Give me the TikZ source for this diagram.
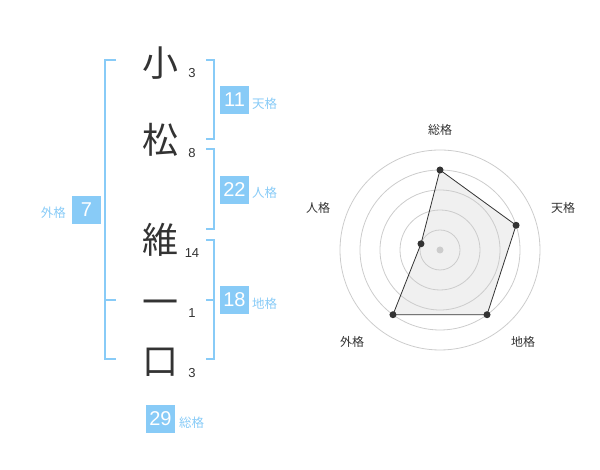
\documentclass[tikz,border=0pt]{standalone}
\usetikzlibrary{calc}
\usepackage{fontspec}
\setmainfont{Liberation Sans}
\newfontfamily\jp{Noto Sans CJK JP}
\definecolor{sky}{HTML}{88CBF7}
\definecolor{ink}{HTML}{333333}
\definecolor{ring}{HTML}{CCCCCC}
\definecolor{area}{HTML}{F0F0F0}
\tikzset{
  kanji/.style={font=\jp\fontsize{36}{36}\selectfont, text=ink, inner sep=0pt},
  strokes/.style={font=\fontsize{13}{13}\selectfont, text=ink, inner sep=0pt},
  valbox/.style={fill=sky, text=white, minimum width=29pt, minimum height=28pt, inner sep=0pt, font=\fontsize{20}{20}\selectfont},
  kaku/.style={font=\jp\fontsize{12.5}{12.5}\selectfont, text=sky, inner sep=0pt},
  bracket/.style={draw=sky, line width=2pt},
  axislabel/.style={font=\jp\fontsize{12}{12}\selectfont, text=ink, inner sep=0pt},
  dot/.style={circle, fill=ink, inner sep=0pt, minimum size=7pt},
}
\begin{document}
\begin{tikzpicture}[x=1pt,y=1pt]
\useasboundingbox (0,0) rectangle (600,470);
% characters
\node[kanji] (k1) at (160,407) {小};
\node[kanji] (k2) at (160,330) {松};
\node[kanji] (k3) at (160,230) {維};
\node[kanji] (k4) at (160,162) {一};
\node[kanji] (k5) at (160,108) {口};
\node[strokes] (s1) at (192,397) {3};
\node[strokes] (s2) at (192,317) {8};
\node[strokes] (s3) at (192,217) {14};
\node[strokes] (s4) at (192,157) {1};
\node[strokes] (s5) at (192,97) {3};
% brackets
\draw[bracket] (116,410) -- (105,410) -- (105,111) -- (116,111);
\draw[bracket] (105,170) -- (116,170);
\draw[bracket] (206,410) -- (214,410) -- (214,331) -- (206,331);
\draw[bracket] (206,321) -- (214,321) -- (214,241) -- (206,241);
\draw[bracket] (206,230) -- (214,230) -- (214,111) -- (206,111);
\draw[bracket] (214,170) -- (206,170);
% value boxes
\node[valbox] (ten) at (234.5,370) {11};
\node[valbox] (jin) at (234.5,280) {22};
\node[valbox] (gai) at (86.5,260) {7};
\node[valbox] (chi) at (234.5,170) {18};
\node[valbox] (sou) at (160.5,51) {29};
\node[kaku, anchor=west] (tenl) at (252,366) {天格};
\node[kaku, anchor=west] (jinl) at (252,277) {人格};
\node[kaku, anchor=east] (gail) at (66,257) {外格};
\node[kaku, anchor=west] (chil) at (252,166) {地格};
\node[kaku, anchor=west] (soul) at (179,47) {総格};
% radar
\coordinate (c) at (440,220);
\coordinate (pS) at ($(c)+(90:80)$);
\coordinate (pT) at ($(c)+(18:80)$);
\coordinate (pC) at ($(c)+(-54:80)$);
\coordinate (pG) at ($(c)+(-126:80)$);
\coordinate (pJ) at ($(c)+(162:20)$);
\fill[area] (pS) -- (pT) -- (pC) -- (pG) -- (pJ) -- cycle;
\foreach \r in {20,40,60,80,100} \draw[ring, line width=0.8pt] (c) circle (\r);
\draw[ink, line width=0.8pt] (pS) -- (pT) -- (pC) -- (pG) -- (pJ) -- cycle;
\node[circle, fill=ring, inner sep=0pt, minimum size=7pt] (cd) at (c) {};
\node[dot] (dS) at (pS) {};
\node[dot] (dT) at (pT) {};
\node[dot] (dC) at (pC) {};
\node[dot] (dG) at (pG) {};
\node[dot] (dJ) at (pJ) {};
\node[axislabel] (lS) at (440,340) {総格};
\node[axislabel] (lT) at (563,262) {天格};
\node[axislabel] (lC) at (523,128) {地格};
\node[axislabel] (lG) at (352,128) {外格};
\node[axislabel] (lJ) at (318,262) {人格};
\end{tikzpicture}
\end{document}
